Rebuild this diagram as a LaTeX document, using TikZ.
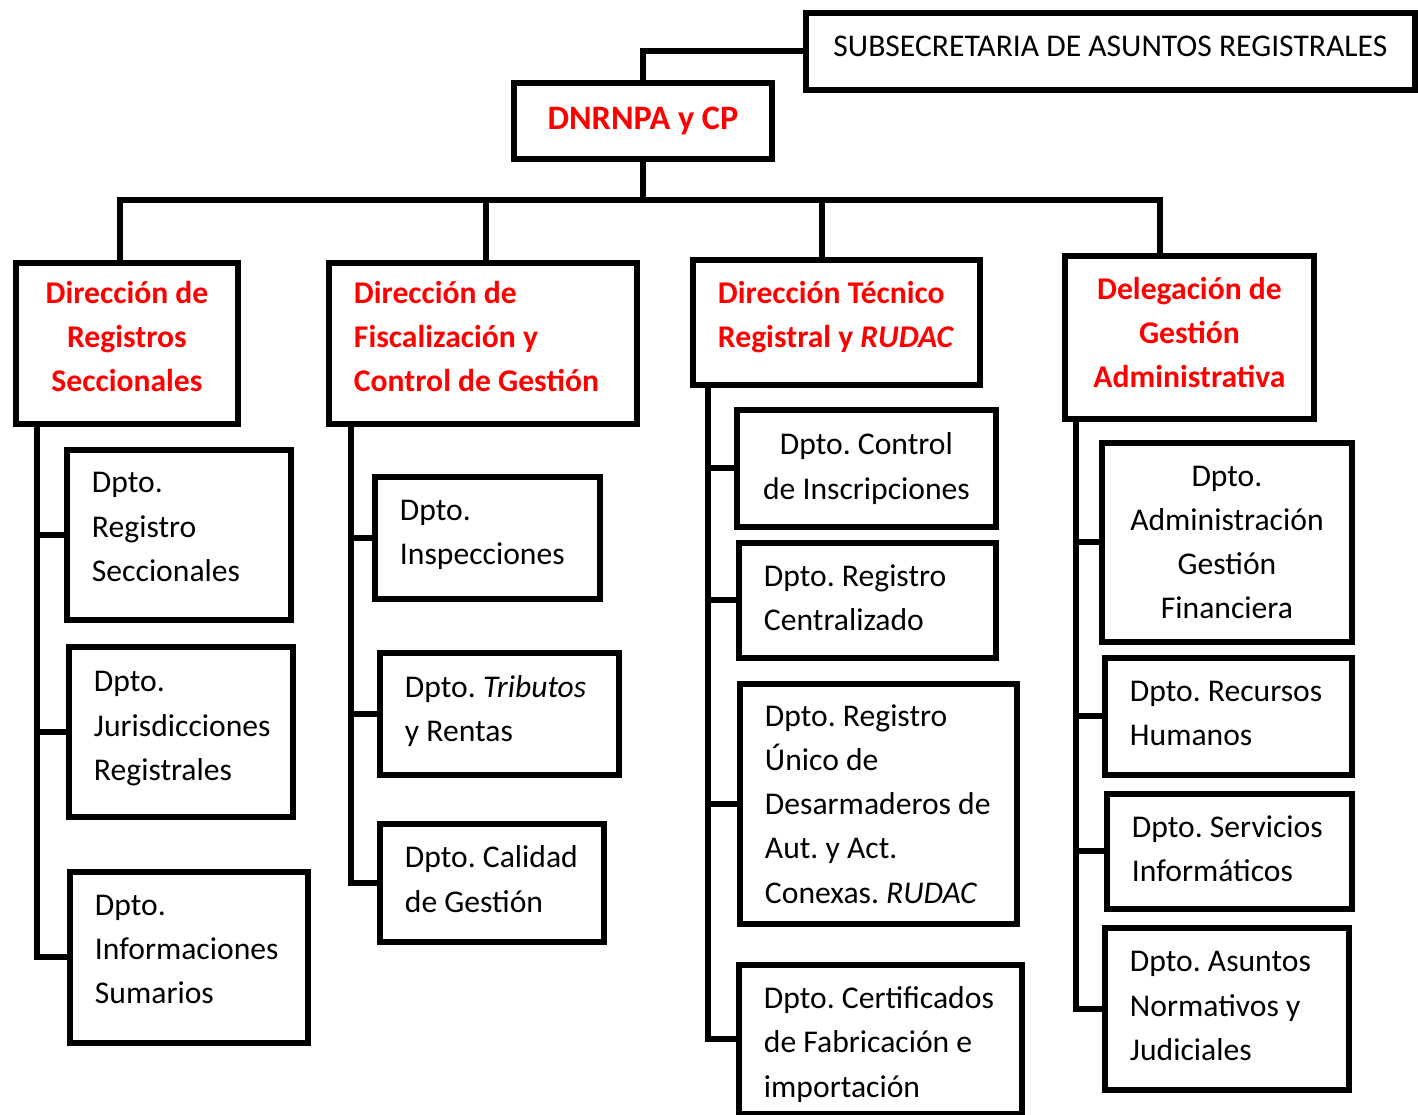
\documentclass[tikz,border=0pt]{standalone}
\usepackage{fontspec}
\setmainfont{Carlito}
\hyphenpenalty=10000
\frenchspacing
\begin{document}
\begin{tikzpicture}[x=0.02cm, y=-0.02cm,
    unit/.style={rectangle, draw=black, line width=3.4pt, inner ysep=0pt, anchor=north west, font=\fontsize{18}{25.2}\selectfont},
    head/.style={unit, text=red, font=\fontsize{18}{25.2}\selectfont\bfseries},
    lbox/.style={text width=#1, align=flush left, inner xsep=0.5cm},
    cbox/.style={align=center},
    link/.style={line width=3.4pt}]
    \useasboundingbox (0,0) rectangle (1418,1115);

    % Top level
    \node [unit, text depth=5.7pt, minimum width=12.18cm, minimum height=1.54cm] (sub) at (803,10) {SUBSECRETARIA DE ASUNTOS REGISTRALES};
    \node [head, minimum width=5.16cm, minimum height=1.52cm, font=\fontsize{19.5}{24}\selectfont\bfseries] (dnr) at (511,80) {DNRNPA y CP};

    % Direcciones (text depth lifts the lines a little, as in the original)
    \node [head, cbox, text depth=7.9pt, minimum width=4.44cm, minimum height=3.22cm] (dr1) at (13,260) {Dirección de\\Registros\\Seccionales};
    \node [head, lbox=5.16cm, text depth=58.3pt, minimum height=3.22cm] (dr2) at (326,260) {Dirección de\\Fiscalización y\\Control de Gestión};
    \node [head, lbox=4.74cm, text depth=34.5pt, minimum height=2.5cm] (dr3) at (690,257) {Dirección~Técnico\\Registral~y~\textit{RUDAC}};
    \node [head, cbox, text depth=5.7pt, minimum width=4.98cm, minimum height=3.26cm] (dr4) at (1062,253) {Delegación de\\Gestión\\Administrativa};

    % Departamentos - column 1
    \node [unit, lbox=3.48cm, text depth=59.5pt, minimum height=3.4cm] (d1a) at (64,447) {Dpto.\\Registro\\Seccionales};
    \node [unit, lbox=3.48cm, text depth=57.2pt, minimum height=3.4cm] (d1b) at (66,644) {Dpto.\\Jurisdicciones\\Registrales};
    \node [unit, lbox=3.76cm, text depth=59.5pt, minimum height=3.42cm] (d1c) at (67,869) {Dpto.\\Informaciones\\Sumarios};

    % Departamentos - column 2
    \node [unit, lbox=3.5cm, text depth=31.3pt, minimum height=2.44cm] (d2a) at (372,474) {Dpto.\\Inspecciones};
    \node [unit, lbox=3.78cm, text depth=31.8pt, minimum height=2.44cm] (d2b) at (377,650) {Dpto.~\textit{Tributos}\\y Rentas};
    \node [unit, lbox=3.48cm, text depth=29.7pt, minimum height=2.36cm] (d2c) at (377,821) {Dpto.~Calidad\\de Gestión};

    % Departamentos - column 3
    \node [unit, cbox, minimum width=5.18cm, minimum height=2.34cm] (d3a) at (734,407) {Dpto. Control\\de Inscripciones};
    \node [unit, lbox=4.14cm, text depth=28.6pt, minimum height=2.3cm] (d3b) at (736,540) {Dpto. Registro\\Centralizado};
    \node [unit, lbox=4.54cm, minimum height=4.8cm] (d3c) at (737,681) {Dpto. Registro\\Único de\\Desarmaderos~de\\Aut. y Act.\\Conexas. \textit{RUDAC}};
    \node [unit, lbox=4.66cm, text depth=47.6pt, minimum height=2.98cm] (d3d) at (736,962) {Dpto.~Certificados\\de~Fabricación~e\\importación};

    % Departamentos - column 4
    \node [unit, cbox, minimum width=5cm, minimum height=3.98cm] (d4a) at (1099,440) {Dpto.\\Administración\\Gestión\\Financiera};
    \node [unit, lbox=3.94cm, text depth=28.6pt, minimum height=2.34cm] (d4b) at (1102,655) {Dpto.~Recursos\\Humanos};
    \node [unit, lbox=3.9cm, text depth=28.6pt, minimum height=2.3cm] (d4c) at (1104,791) {Dpto.~Servicios\\Informáticos};
    \node [unit, lbox=3.88cm, text depth=53.8pt, minimum height=3.24cm] (d4d) at (1102,925) {Dpto. Asuntos\\Normativos y\\Judiciales};

    % Bus and spines
    \coordinate (t1) at (120,200);
    \coordinate (t2) at (486,200);
    \coordinate (t3) at (822,200);
    \coordinate (t4) at (1160,200);
    \coordinate (sp1) at (37,0);
    \coordinate (sp2) at (351,0);
    \coordinate (sp3) at (708,0);
    \coordinate (sp4) at (1076,0);

    \draw [link] (sub.west) -| (dnr.north);
    \draw [link] (dnr.south) -- (dnr.south |- t1);
    \draw [link] (t1 |- dr1.north) -- (t1) -- (t4) -- (t4 |- dr4.north);
    \draw [link] (t2) -- (t2 |- dr2.north);
    \draw [link] (t3) -- (t3 |- dr3.north);

    % Columns
    \draw [link] (dr1.south -| sp1) |- (d1c.west);
    \foreach \b in {d1a,d1b} \draw [link] (\b.west) -- (\b.west -| sp1);
    \draw [link] (dr2.south -| sp2) |- (d2c.west);
    \foreach \b in {d2a,d2b} \draw [link] (\b.west) -- (\b.west -| sp2);
    \draw [link] (dr3.south -| sp3) |- (d3d.west);
    \foreach \b in {d3a,d3b,d3c} \draw [link] (\b.west) -- (\b.west -| sp3);
    \draw [link] (dr4.south -| sp4) |- (d4d.west);
    \foreach \b in {d4a,d4b,d4c} \draw [link] (\b.west) -- (\b.west -| sp4);
\end{tikzpicture}
\end{document}
